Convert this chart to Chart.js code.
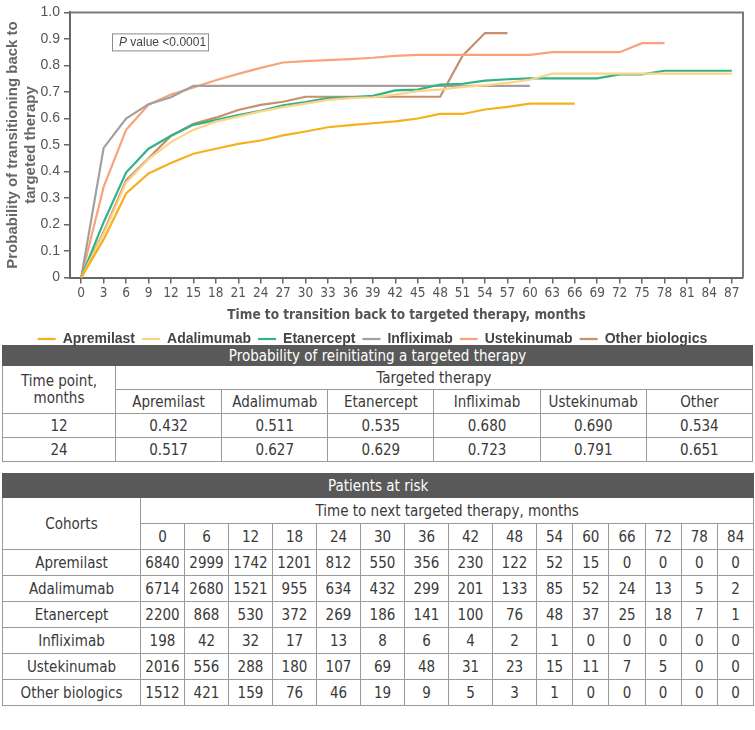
<!DOCTYPE html>
<html>
<head>
<meta charset="utf-8">
<script src="https://cdn.jsdelivr.net/npm/chart.js@4.4.1/dist/chart.umd.min.js"></script>
<style>
  body { margin: 0; background: #fff; overflow: hidden; }
  #wrap { position: relative; width: 755px; height: 356px; }
  table { border-collapse: collapse; margin-left: 2px; width: 751px; table-layout: fixed;
          font-family: "DejaVu Sans Condensed", sans-serif; font-size: 15px; color: #3a3a3a; }
  td, th { border: 1px solid #9a9a9a; text-align: center; padding: 0; font-weight: normal; }
  th.head { background: #595959; color: #fff; border-color: #595959; }
  #t1 { margin-top: -11px; }
  #t1 tr { height: 24px; }
  #t2 { margin-top: 11px; }
  #t2 tr { height: 26px; }
</style>
</head>
<body>
<div id="wrap"><canvas id="myChart"></canvas></div>
<table id="t1"></table>
<table id="t2"></table>
<script>
// x axis months
var months = [0,3,6,9,12,15,18,21,24,27,30,33,36,39,42,45,48,51,54,57,60,63,66,69,72,75,78,81,84,87];

// curves, one value per 3 months (null = curve has ended)
var apremilast = [0,0.144,0.317,0.393,0.432,0.467,0.486,0.504,0.517,0.536,0.551,0.567,0.575,0.582,0.589,0.600,0.617,0.617,0.634,0.644,0.656,0.656,0.656,null,null,null,null,null,null,null];
var adalimumab = [0,0.165,0.358,0.447,0.511,0.557,0.588,0.607,0.627,0.643,0.656,0.670,0.677,0.680,0.690,0.703,0.709,0.719,0.725,0.734,0.746,0.769,0.769,0.769,0.769,0.769,0.769,0.769,0.769,0.769];
var etanercept = [0,0.209,0.396,0.486,0.535,0.576,0.594,0.613,0.629,0.650,0.662,0.677,0.680,0.685,0.706,0.709,0.728,0.731,0.743,0.748,0.751,0.751,0.751,0.751,0.766,0.766,0.780,0.780,0.780,0.780];
var infliximab = [0,0.489,0.600,0.654,0.680,0.723,0.723,0.723,0.723,0.723,0.723,0.723,0.723,0.723,0.723,0.723,0.723,0.723,0.723,0.723,0.723,null,null,null,null,null,null,null,null,null];
var ustekinumab = [0,0.342,0.557,0.652,0.690,0.717,0.744,0.768,0.791,0.811,0.816,0.820,0.824,0.829,0.836,0.840,0.840,0.840,0.840,0.840,0.840,0.850,0.850,0.850,0.850,0.884,0.884,null,null,null];
var otherBiologics = [0,0.172,0.367,0.450,0.534,0.580,0.603,0.632,0.651,0.663,0.682,0.682,0.682,0.682,0.682,0.682,0.682,0.837,0.922,0.922,null,null,null,null,null,null,null,null,null,null];

var yTicks = [0,0.1,0.2,0.3,0.4,0.5,0.6,0.7,0.8,0.9,1.0];

// table 1
var therapyNames = ['Apremilast','Adalimumab','Etanercept','Infliximab','Ustekinumab','Other'];
var timePoints = [12, 24];
var prob12 = [0.432,0.511,0.535,0.680,0.690,0.534];
var prob24 = [0.517,0.627,0.629,0.723,0.791,0.651];

// table 2
var riskMonths = [0,6,12,18,24,30,36,42,48,54,60,66,72,78,84];
var cohorts = ['Apremilast','Adalimumab','Etanercept','Infliximab','Ustekinumab','Other biologics'];
var riskApremilast = [6840,2999,1742,1201,812,550,356,230,122,52,15,0,0,0,0];
var riskAdalimumab = [6714,2680,1521,955,634,432,299,201,133,85,52,24,13,5,2];
var riskEtanercept = [2200,868,530,372,269,186,141,100,76,48,37,25,18,7,1];
var riskInfliximab = [198,42,32,17,13,8,6,4,2,1,0,0,0,0,0];
var riskUstekinumab = [2016,556,288,180,107,69,48,31,23,15,11,7,5,0,0];
var riskOther = [1512,421,159,76,46,19,9,5,3,1,0,0,0,0,0];

var narrow = '"DejaVu Sans Condensed", Arial, sans-serif';
var arial = '"Liberation Sans", Arial, sans-serif';

//Chart Stuff------------------------------------------
var framePlugin = {
  id: 'frame',
  afterDraw: function(chart){
    var a = chart.chartArea, ctx = chart.ctx;
    ctx.save();
    ctx.strokeStyle = '#7a7a7a';
    ctx.lineWidth = 2;
    ctx.beginPath();
    ctx.moveTo(a.left, a.top);
    ctx.lineTo(a.right, a.top);
    ctx.lineTo(a.right, a.bottom);
    ctx.stroke();
    // P value box
    var bx = a.left + 42, by = a.top + 21;
    ctx.lineWidth = 1;
    ctx.strokeStyle = '#8a8a8a';
    ctx.strokeRect(bx + 0.5, by + 0.5, 96, 17);
    ctx.fillStyle = '#444';
    ctx.textBaseline = 'middle';
    ctx.font = 'italic 12px ' + arial;
    ctx.fillText('P', bx + 7, by + 9);
    var w = ctx.measureText('P ').width;
    ctx.font = '12px ' + arial;
    ctx.fillText('value <0.0001', bx + 7 + w, by + 9);
    ctx.restore();
  }
};

function line(label, data, color){
  return { label: label, data: data, borderColor: color, backgroundColor: color,
           borderWidth: 2.2, pointRadius: 0, tension: 0, spanGaps: false };
}

var ctx = document.getElementById('myChart').getContext('2d');
var myChart = new Chart(ctx, {
  type: 'line',
  data: {
    labels: months,
    datasets: [
      line('Apremilast', apremilast, '#f5b11c'),
      line('Adalimumab', adalimumab, '#fdd487'),
      line('Etanercept', etanercept, '#33b287'),
      line('Infliximab', infliximab, '#a39f9f'),
      line('Ustekinumab', ustekinumab, '#f8a37c'),
      line('Other biologics', otherBiologics, '#c78f6d')
    ]
  },
  options: {
    responsive: true,
    maintainAspectRatio: false,
    animation: false,
    layout: { padding: { left: 2, right: 12, top: 0, bottom: 0 } },
    plugins: {
      tooltip: { enabled: false },
      legend: {
        position: 'bottom',
        labels: {
          usePointStyle: true, pointStyle: 'line', pointStyleWidth: 18,
          color: '#444', padding: 7,
          font: { family: arial, size: 14, weight: 'bold' }
        }
      }
    },
    scales: {
      x: {
        type: 'category',
        offset: true,
        grid: { display: true, drawOnChartArea: false, drawTicks: true, tickLength: 6, color: '#666', lineWidth: 1.5 },
        border: { display: true, color: '#666', width: 2 },
        ticks: { color: '#555', maxRotation: 0, autoSkip: false, padding: 2,
                 font: { family: narrow, size: 13.5 } },
        title: { display: true, text: 'Time to transition back to targeted therapy, months',
                 color: '#555', padding: { top: 4, bottom: 1 },
                 font: { family: narrow, size: 13.5, weight: 'bold' } }
      },
      y: {
        min: 0, max: 1,
        afterFit: function(scale){ scale.width = 68; },
        afterBuildTicks: function(scale){ scale.ticks = yTicks.map(function(v){ return { value: v }; }); },
        grid: { display: true, drawOnChartArea: false, drawTicks: true, tickLength: 6, color: '#666', lineWidth: 1.5 },
        border: { display: true, color: '#666', width: 2 },
        ticks: { color: '#555', padding: 4,
                 font: { family: arial, size: 14 },
                 callback: function(v){ return v === 0 ? '0' : v.toFixed(1); } },
        title: { display: true, text: ['Probability of transitioning back to', 'targeted therapy'],
                 color: '#666', padding: { top: 2, bottom: 0 },
                 font: { family: arial, size: 15, weight: 'bold' } }
      }
    }
  },
  plugins: [framePlugin]
});

//Tables------------------------------------------
function buildTable1(){
  var t = document.getElementById('t1');
  var h = '<colgroup><col style="width:113px">';
  for (var i = 0; i < therapyNames.length; i++) h += '<col>';
  h += '</colgroup>';
  h += '<tr style="height:20px"><th class="head" colspan="7">Probability of reinitiating a targeted therapy</th></tr>';
  h += '<tr><td rowspan="2" style="line-height:17px">Time point,<br>months</td><td colspan="6">Targeted therapy</td></tr>';
  h += '<tr>';
  for (var i = 0; i < therapyNames.length; i++) h += '<td>' + therapyNames[i] + '</td>';
  h += '</tr>';
  var rows = [prob12, prob24];
  for (var r = 0; r < rows.length; r++){
    h += '<tr><td>' + timePoints[r] + '</td>';
    for (var c = 0; c < rows[r].length; c++) h += '<td>' + rows[r][c].toFixed(3) + '</td>';
    h += '</tr>';
  }
  t.innerHTML = h;
}

function buildTable2(){
  var t = document.getElementById('t2');
  var risk = [riskApremilast, riskAdalimumab, riskEtanercept, riskInfliximab, riskUstekinumab, riskOther];
  var h = '<colgroup><col style="width:138px">';
  for (var i = 0; i < riskMonths.length; i++) h += '<col style="width:' + (i < 9 ? 44 : 36.2) + 'px">';
  h += '</colgroup>';
  h += '<tr style="height:24px"><th class="head" colspan="16">Patients at risk</th></tr>';
  h += '<tr><td rowspan="2">Cohorts</td><td colspan="15">Time to next targeted therapy, months</td></tr>';
  h += '<tr>';
  for (var i = 0; i < riskMonths.length; i++) h += '<td>' + riskMonths[i] + '</td>';
  h += '</tr>';
  for (var r = 0; r < cohorts.length; r++){
    h += '<tr><td>' + cohorts[r] + '</td>';
    for (var c = 0; c < risk[r].length; c++) h += '<td>' + risk[r][c] + '</td>';
    h += '</tr>';
  }
  t.innerHTML = h;
}

buildTable1();
buildTable2();
</script>
</body>
</html>
